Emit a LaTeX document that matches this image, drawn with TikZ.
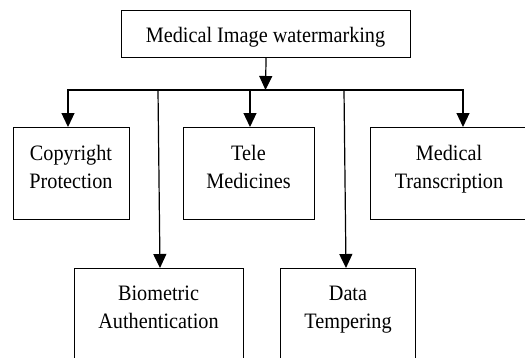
\documentclass[tikz,border=0pt]{standalone}
\usepackage{fontspec}
\setmainfont{Liberation Serif}[FakeStretch=0.92]
\usetikzlibrary{arrows.meta}
\begin{document}
\begin{tikzpicture}[x=1pt,y=-1pt,
  box/.style={draw, line width=1.1pt, inner sep=0pt, anchor=north west},
  lbl/.style={font=\fontsize{22}{28}\selectfont, align=center, inner sep=0pt, anchor=base},
  link/.style={line width=1.2pt, line cap=rect},
  arr/.style={link, -{Triangle[width=13pt,length=14pt]}}]
  \useasboundingbox (0,0) rectangle (525,357);
  \clip (0,0) rectangle (525,357);

  % boxes
  \node[box, minimum width=289pt, minimum height=47pt] (mw) at (121,10) {};
  \node[box, minimum width=116pt, minimum height=92pt] (cp) at (13,127) {};
  \node[box, minimum width=131pt, minimum height=92pt] (tm) at (183,127) {};
  \node[box, minimum width=158pt, minimum height=92pt] (mt) at (370,127) {};
  \node[box, minimum width=169pt, minimum height=92pt] (ba) at (74,268) {};
  \node[box, minimum width=135pt, minimum height=92pt] (dt) at (280,268) {};

  % labels
  \node[lbl] (mwt) at (265.5,42.5) {Medical Image watermarking};
  \node[lbl] (cpt) at (71,188) {Copyright\\Protection};
  \node[lbl] (tmt) at (248.5,188) {Tele\\Medicines};
  \node[lbl] (mtt) at (449,188) {Medical\\Transcription};
  \node[lbl] (bat) at (158.5,328.5) {Biometric\\Authentication};
  \node[lbl] (dtt) at (348,328.5) {Data\\Tempering};

  % bus points
  \coordinate (top) at (265.5,90);
  \coordinate (b1) at (68,90);
  \coordinate (b2) at (158,90);
  \coordinate (b3) at (250,90);
  \coordinate (b4) at (344,90);
  \coordinate (b5) at (463,90);

  % connectors
  \draw[arr] (mw.south) -- (top);
  \draw[link] (b1) -- (b5);
  \draw[arr] (b1) -- (b1 |- cp.north);
  \draw[arr] (b2) -- ([xshift=2pt]b2 |- ba.north);
  \draw[arr] (b3) -- (b3 |- tm.north);
  \draw[arr] (b4) -- ([xshift=2pt]b4 |- dt.north);
  \draw[arr] (b5) -- (b5 |- mt.north);
\end{tikzpicture}
\end{document}
